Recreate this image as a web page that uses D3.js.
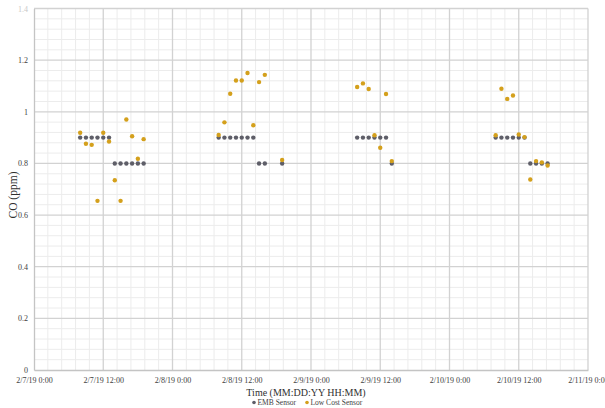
<!DOCTYPE html>
<html><head><meta charset="utf-8">
<script src="https://cdn.jsdelivr.net/npm/d3@7"></script>
<style>html,body{margin:0;padding:0;background:#fff;}svg{display:block;}</style>
</head><body>
<svg id="c" width="605" height="408"></svg>
<script>
// ---- data ----
const embTimes = [
  "2/7/19 8:00","2/7/19 9:00","2/7/19 10:00","2/7/19 11:00","2/7/19 12:00","2/7/19 13:00",
  "2/7/19 14:00","2/7/19 15:00","2/7/19 16:00","2/7/19 17:00","2/7/19 18:00","2/7/19 19:00",
  "2/8/19 8:00","2/8/19 9:00","2/8/19 10:00","2/8/19 11:00","2/8/19 12:00","2/8/19 13:00","2/8/19 14:00",
  "2/8/19 15:00","2/8/19 16:00","2/8/19 19:00",
  "2/9/19 8:00","2/9/19 9:00","2/9/19 10:00","2/9/19 11:00","2/9/19 12:00","2/9/19 13:00","2/9/19 14:00",
  "2/10/19 8:00","2/10/19 9:00","2/10/19 10:00","2/10/19 11:00","2/10/19 12:00","2/10/19 13:00",
  "2/10/19 14:00","2/10/19 15:00","2/10/19 16:00","2/10/19 17:00"
];
const embValues = [
  0.9,0.9,0.9,0.9,0.9,0.9, 0.8,0.8,0.8,0.8,0.8,0.8,
  0.9,0.9,0.9,0.9,0.9,0.9,0.9, 0.8,0.8,0.8,
  0.9,0.9,0.9,0.9,0.9,0.9,0.8,
  0.9,0.9,0.9,0.9,0.9,0.9, 0.8,0.8,0.8,0.8
];
const lowTimes = [
  "2/7/19 8:00","2/7/19 9:00","2/7/19 10:00","2/7/19 11:00","2/7/19 12:00","2/7/19 13:00",
  "2/7/19 14:00","2/7/19 15:00","2/7/19 16:00","2/7/19 17:00","2/7/19 18:00","2/7/19 19:00",
  "2/8/19 8:00","2/8/19 9:00","2/8/19 10:00","2/8/19 11:00","2/8/19 12:00","2/8/19 13:00","2/8/19 14:00",
  "2/8/19 15:00","2/8/19 16:00","2/8/19 19:00",
  "2/9/19 8:00","2/9/19 9:00","2/9/19 10:00","2/9/19 11:00","2/9/19 12:00","2/9/19 13:00","2/9/19 14:00",
  "2/10/19 8:00","2/10/19 9:00","2/10/19 10:00","2/10/19 11:00","2/10/19 12:00","2/10/19 13:00",
  "2/10/19 14:00","2/10/19 15:00","2/10/19 16:00","2/10/19 17:00"
];
const lowValues = [
  0.919,0.876,0.872,0.655,0.919,0.885,0.735,0.655,0.970,0.905,0.818,0.894,
  0.910,0.959,1.070,1.121,1.121,1.150,0.948,1.115,1.143,0.813,
  1.096,1.110,1.088,0.909,0.861,1.069,0.809,
  0.909,1.089,1.050,1.063,0.912,0.902,0.738,0.809,0.804,0.792
];
const xTickLabels = ["2/7/19 0:00","2/7/19 12:00","2/8/19 0:00","2/8/19 12:00","2/9/19 0:00",
  "2/9/19 12:00","2/10/19 0:00","2/10/19 12:00","2/11/19 0:00"];
const yTickValues = [0,0.2,0.4,0.6,0.8,1,1.2,1.4];
const seriesNames = ["EMB Sensor","Low Cost Sensor"];

// ---- helpers ----
const parse = d3.timeParse("%m/%d/%y %H:%M");
const fmt = d => (d.getMonth()+1)+"/"+d.getDate()+"/"+String(d.getFullYear()).slice(2)+" "+d.getHours()+":"+String(d.getMinutes()).padStart(2,"0");

const svg = d3.select("#c");
const L = 34, R = 588, T = 8.5, B = 370;
const xTicks = xTickLabels.map(parse);
const x = d3.scaleTime().domain([xTicks[0], xTicks[xTicks.length-1]]).range([L, R]);
const y = d3.scaleLinear().domain([0, 1.4]).range([B, T]);

const font = "'Liberation Serif','Times New Roman',serif";
const colEMB = "#5e5e68", colLow = "#d4a01c";

// minor gridlines
const minorX = [];
for (let i = 0; i < xTicks.length - 1; i++) {
  const a = +xTicks[i], b = +xTicks[i+1];
  for (let k = 1; k < 5; k++) minorX.push(new Date(a + (b - a) * k / 5));
}
const minorY = [];
for (let i = 0; i < yTickValues.length - 1; i++)
  for (let k = 1; k < 5; k++) minorY.push(yTickValues[i] + 0.04 * k);

const g = svg.append("g");
g.selectAll(".mx").data(minorX).join("line")
  .attr("x1", d => x(d)).attr("x2", d => x(d)).attr("y1", T).attr("y2", B)
  .attr("stroke", "#ececec").attr("stroke-width", 1);
g.selectAll(".my").data(minorY).join("line")
  .attr("x1", L).attr("x2", R).attr("y1", d => y(d)).attr("y2", d => y(d))
  .attr("stroke", "#ececec").attr("stroke-width", 1);
// major gridlines
g.selectAll(".Mx").data(xTicks.slice(1)).join("line")
  .attr("x1", d => x(d)).attr("x2", d => x(d)).attr("y1", T).attr("y2", B)
  .attr("stroke", "#d2d2d2").attr("stroke-width", 1.3);
g.selectAll(".My").data(yTickValues.slice(1)).join("line")
  .attr("x1", L).attr("x2", R).attr("y1", d => y(d)).attr("y2", d => y(d))
  .attr("stroke", "#d2d2d2").attr("stroke-width", 1.3);

// axes
const xAxis = svg.append("g").attr("transform", `translate(0,${B})`)
  .call(d3.axisBottom(x).tickValues(xTicks).tickFormat(fmt).tickSize(0).tickPadding(7));
xAxis.select(".domain").attr("stroke", "#c4c4c4").attr("stroke-width", 1.3);
xAxis.selectAll("text").attr("font-family", font).attr("font-size", 8).attr("fill", "#404040");

const yAxis = svg.append("g").attr("transform", `translate(${L},0)`)
  .call(d3.axisLeft(y).tickValues(yTickValues).tickFormat(d3.format("")).tickSize(0).tickPadding(6));
yAxis.select(".domain").attr("stroke", "#c4c4c4").attr("stroke-width", 1.3);
yAxis.selectAll("text").attr("font-family", font).attr("font-size", 8).attr("fill", "#404040");
yAxis.selectAll(".tick").filter(d => d === 1.4).select("text").attr("fill", "#c8c8c8");

// points
const emb = embTimes.map((t, i) => ({ t: parse(t), v: embValues[i] }));
const low = lowTimes.map((t, i) => ({ t: parse(t), v: lowValues[i] }));
svg.append("g").selectAll("circle").data(emb).join("circle")
  .attr("cx", d => x(d.t)).attr("cy", d => y(d.v)).attr("r", 2.2).attr("fill", colEMB);
svg.append("g").selectAll("circle").data(low).join("circle")
  .attr("cx", d => x(d.t)).attr("cy", d => y(d.v)).attr("r", 2.2).attr("fill", colLow);

// titles
svg.append("text").attr("x", 306).attr("y", 396).attr("text-anchor", "middle")
  .attr("font-family", font).attr("font-size", 10).attr("fill", "#303030")
  .text("Time (MM:DD:YY HH:MM)");
svg.append("text").attr("transform", "translate(17,195) rotate(-90)").attr("text-anchor", "middle")
  .attr("font-family", font).attr("font-size", 11.5).attr("fill", "#303030")
  .text("CO (ppm)");

// legend
const leg = svg.append("g").attr("transform", "translate(0,405)");
const legItems = [{ name: seriesNames[0], c: colEMB, x: 254 }, { name: seriesNames[1], c: colLow, x: 307 }];
legItems.forEach(d => {
  leg.append("circle").attr("cx", d.x).attr("cy", -2.5).attr("r", 1.8).attr("fill", d.c);
  leg.append("text").attr("x", d.x + 3.5).attr("y", 0).attr("font-family", font)
    .attr("font-size", 7.5).attr("fill", "#404040").text(d.name);
});
</script>
</body></html>
